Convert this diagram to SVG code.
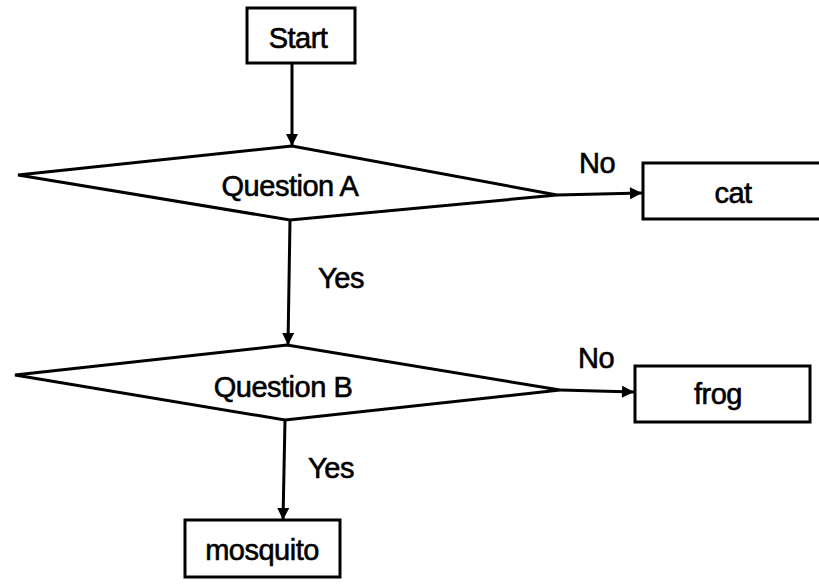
<svg xmlns="http://www.w3.org/2000/svg" width="819" height="584" viewBox="0 0 819 584">
<style>
.s{fill:#fff;stroke:#000;stroke-width:3}
.t{font-family:"Liberation Sans",Arial,sans-serif;font-size:29px;fill:#000;stroke:#000;stroke-width:0.6;text-anchor:middle;dominant-baseline:central;letter-spacing:-0.5px}
.c{stroke:#000;stroke-width:3;fill:none;marker-end:url(#ah)}
</style>
<defs>
<marker id="ah" viewBox="0 0 10 10" refX="10" refY="5" markerWidth="14" markerHeight="12" markerUnits="userSpaceOnUse" orient="auto">
<path d="M0,0 L10,5 L0,10 z" fill="#000"/>
</marker>
</defs>
<g id="connectors">
<line class="c" x1="292" y1="63" x2="292" y2="146"/>
<line class="c" x1="557" y1="195" x2="642" y2="193"/>
<line class="c" x1="290" y1="220" x2="288" y2="345"/>
<line class="c" x1="560" y1="390" x2="634" y2="392"/>
<line class="c" x1="285" y1="420" x2="283" y2="520"/>
<text class="t" x="597" y="163">No</text>
<text class="t" x="341" y="278">Yes</text>
<text class="t" x="596" y="358">No</text>
<text class="t" x="331" y="468">Yes</text>
</g>
<g id="start">
<rect class="s" x="247" y="8" width="108" height="55"/>
<text class="t" x="298" y="38">Start</text>
</g>
<g id="questionA">
<polygon class="s" points="18,175 292,146 557,195 290,220"/>
<text class="t" x="290" y="186">Question A</text>
</g>
<g id="cat">
<rect class="s" x="643" y="163" width="200" height="56"/>
<text class="t" x="733" y="193">cat</text>
</g>
<g id="questionB">
<polygon class="s" points="15,375 287,345 560,390 285,420"/>
<text class="t" x="283" y="387">Question B</text>
</g>
<g id="frog">
<rect class="s" x="635" y="366" width="175" height="56"/>
<text class="t" x="718" y="394">frog</text>
</g>
<g id="mosquito">
<rect class="s" x="185" y="520" width="155" height="57"/>
<text class="t" x="262" y="550">mosquito</text>
</g>
</svg>
